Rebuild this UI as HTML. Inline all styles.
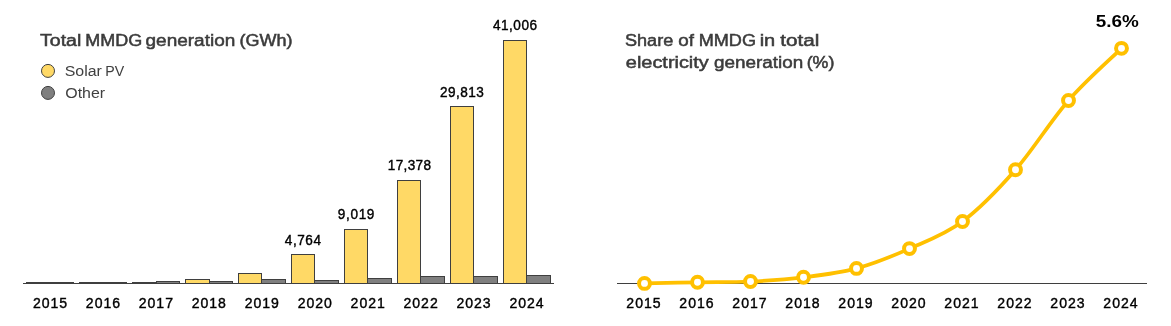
<!DOCTYPE html>
<html><head><meta charset="utf-8"><style>
html,body{margin:0;padding:0;background:#fff;width:1171px;height:326px;overflow:hidden}
svg{display:block;will-change:transform}
text{font-family:"Liberation Sans",sans-serif}

.title{font-size:16px;fill:#3b3b3b;stroke:#3b3b3b;stroke-width:0.5px}
.leg{font-size:15.5px;fill:#404040}
.yr{font-size:14.5px;fill:#000;stroke:#000;stroke-width:0.4px;text-anchor:middle}
.dl{font-size:14px;fill:#000;stroke:#000;stroke-width:0.4px;text-anchor:middle}
.pct{font-size:16px;font-weight:bold;fill:#000}

</style></head><body>
<svg width="1171" height="326" viewBox="0 0 1171 326">
<rect width="1171" height="326" fill="#fff"/>
<text x="40.07" y="46.00" class="title" textLength="41.25" lengthAdjust="spacingAndGlyphs">Total</text>
<text x="85.20" y="46.00" class="title" textLength="56.93" lengthAdjust="spacingAndGlyphs">MMDG</text>
<text x="145.56" y="46.00" class="title" textLength="89.73" lengthAdjust="spacingAndGlyphs">generation</text>
<text x="239.62" y="46.00" class="title" textLength="52.94" lengthAdjust="spacingAndGlyphs">(GWh)</text>
<circle cx="48" cy="70.9" r="6.5" fill="#FFD966" stroke="#404040" stroke-width="1"/>
<circle cx="48" cy="92.9" r="6.5" fill="#7F7F7F" stroke="#404040" stroke-width="1"/>
<text x="64.76" y="76.00" class="leg" textLength="37.18" lengthAdjust="spacingAndGlyphs">Solar</text>
<text x="105.33" y="76.00" class="leg" textLength="18.96" lengthAdjust="spacingAndGlyphs">PV</text>
<text x="65.29" y="98.00" class="leg" textLength="39.81" lengthAdjust="spacingAndGlyphs">Other</text>
<rect x="26.5" y="282.5" width="24" height="1" fill="#FFD966" stroke="#3F3F3F" stroke-width="1"/>
<rect x="50.5" y="282.5" width="23" height="1" fill="#7F7F7F" stroke="#3F3F3F" stroke-width="1"/>
<rect x="79.5" y="282.5" width="24" height="1" fill="#FFD966" stroke="#3F3F3F" stroke-width="1"/>
<rect x="103.5" y="282.5" width="23" height="1" fill="#7F7F7F" stroke="#3F3F3F" stroke-width="1"/>
<rect x="132.5" y="282.5" width="24" height="1" fill="#FFD966" stroke="#3F3F3F" stroke-width="1"/>
<rect x="156.5" y="281.5" width="23" height="2" fill="#7F7F7F" stroke="#3F3F3F" stroke-width="1"/>
<rect x="185.5" y="279.5" width="24" height="4" fill="#FFD966" stroke="#3F3F3F" stroke-width="1"/>
<rect x="209.5" y="281.5" width="23" height="2" fill="#7F7F7F" stroke="#3F3F3F" stroke-width="1"/>
<rect x="238.5" y="273.5" width="23" height="10" fill="#FFD966" stroke="#3F3F3F" stroke-width="1"/>
<rect x="261.5" y="279.5" width="24" height="4" fill="#7F7F7F" stroke="#3F3F3F" stroke-width="1"/>
<rect x="291.5" y="254.5" width="23" height="29" fill="#FFD966" stroke="#3F3F3F" stroke-width="1"/>
<rect x="314.5" y="280.5" width="24" height="3" fill="#7F7F7F" stroke="#3F3F3F" stroke-width="1"/>
<rect x="344.5" y="229.5" width="23" height="54" fill="#FFD966" stroke="#3F3F3F" stroke-width="1"/>
<rect x="367.5" y="278.5" width="24" height="5" fill="#7F7F7F" stroke="#3F3F3F" stroke-width="1"/>
<rect x="397.5" y="180.5" width="23" height="103" fill="#FFD966" stroke="#3F3F3F" stroke-width="1"/>
<rect x="420.5" y="276.5" width="24" height="7" fill="#7F7F7F" stroke="#3F3F3F" stroke-width="1"/>
<rect x="450.5" y="106.5" width="23" height="177" fill="#FFD966" stroke="#3F3F3F" stroke-width="1"/>
<rect x="473.5" y="276.5" width="24" height="7" fill="#7F7F7F" stroke="#3F3F3F" stroke-width="1"/>
<rect x="503.5" y="40.5" width="23" height="243" fill="#FFD966" stroke="#3F3F3F" stroke-width="1"/>
<rect x="526.5" y="275.5" width="24" height="8" fill="#7F7F7F" stroke="#3F3F3F" stroke-width="1"/>
<text transform="translate(49.99,0) scale(0.97,1)" x="0" y="308.00" class="yr" textLength="35.27" lengthAdjust="spacing">2015</text>
<text transform="translate(102.94,0) scale(0.97,1)" x="0" y="308.00" class="yr" textLength="35.27" lengthAdjust="spacing">2016</text>
<text transform="translate(155.89,0) scale(0.97,1)" x="0" y="308.00" class="yr" textLength="35.27" lengthAdjust="spacing">2017</text>
<text transform="translate(208.83,0) scale(0.97,1)" x="0" y="308.00" class="yr" textLength="35.27" lengthAdjust="spacing">2018</text>
<text transform="translate(261.78,0) scale(0.97,1)" x="0" y="308.00" class="yr" textLength="35.27" lengthAdjust="spacing">2019</text>
<text transform="translate(314.73,0) scale(0.97,1)" x="0" y="308.00" class="yr" textLength="35.27" lengthAdjust="spacing">2020</text>
<text transform="translate(302.90,0) scale(0.97,1)" x="0" y="245.00" class="dl" textLength="37.32" lengthAdjust="spacing" text-anchor="middle">4,764</text>
<text transform="translate(367.67,0) scale(0.97,1)" x="0" y="308.00" class="yr" textLength="35.27" lengthAdjust="spacing">2021</text>
<text transform="translate(356.10,0) scale(0.97,1)" x="0" y="219.00" class="dl" textLength="37.73" lengthAdjust="spacing" text-anchor="middle">9,019</text>
<text transform="translate(420.62,0) scale(0.97,1)" x="0" y="308.00" class="yr" textLength="35.27" lengthAdjust="spacing">2022</text>
<text transform="translate(409.40,0) scale(0.97,1)" x="0" y="170.20" class="dl" textLength="44.74" lengthAdjust="spacing" text-anchor="middle">17,378</text>
<text transform="translate(473.57,0) scale(0.97,1)" x="0" y="308.00" class="yr" textLength="35.27" lengthAdjust="spacing">2023</text>
<text transform="translate(461.90,0) scale(0.97,1)" x="0" y="97.10" class="dl" textLength="45.15" lengthAdjust="spacing" text-anchor="middle">29,813</text>
<text transform="translate(526.51,0) scale(0.97,1)" x="0" y="308.00" class="yr" textLength="35.27" lengthAdjust="spacing">2024</text>
<text transform="translate(515.00,0) scale(0.97,1)" x="0" y="29.70" class="dl" textLength="45.36" lengthAdjust="spacing" text-anchor="middle">41,006</text>
<line x1="23" y1="283.5" x2="554" y2="283.5" stroke="#3F3F3F" stroke-width="1"/>
<text x="625.01" y="46.00" class="title" textLength="48.23" lengthAdjust="spacingAndGlyphs">Share</text>
<text x="678.24" y="46.00" class="title" textLength="15.66" lengthAdjust="spacingAndGlyphs">of</text>
<text x="698.73" y="46.00" class="title" textLength="57.24" lengthAdjust="spacingAndGlyphs">MMDG</text>
<text x="759.68" y="46.00" class="title" textLength="15.57" lengthAdjust="spacingAndGlyphs">in</text>
<text x="780.15" y="46.00" class="title" textLength="39.10" lengthAdjust="spacingAndGlyphs">total</text>
<text x="625.88" y="68.00" class="title" textLength="82.90" lengthAdjust="spacingAndGlyphs">electricity</text>
<text x="714.04" y="68.00" class="title" textLength="89.09" lengthAdjust="spacingAndGlyphs">generation</text>
<text x="806.69" y="68.00" class="title" textLength="27.71" lengthAdjust="spacingAndGlyphs">(%)</text>
<line x1="617" y1="283.5" x2="1147" y2="283.5" stroke="#3F3F3F" stroke-width="1"/>
<path d="M644.5,283.4 C653.33,283.22 679.83,282.62 697.5,282.3 C715.17,281.98 732.83,282.33 750.5,281.5 C768.17,280.67 785.83,279.48 803.5,277.3 C821.17,275.12 838.83,273.18 856.5,268.4 C874.17,263.62 891.83,256.42 909.5,248.6 C927.17,240.78 944.83,234.63 962.5,221.5 C980.17,208.37 997.83,189.98 1015.5,169.8 C1033.17,149.62 1050.83,120.69 1068.5,100.45 C1086.17,80.21 1112.67,57.03 1121.5,48.35" fill="none" stroke="#FFC000" stroke-width="3.7" stroke-linecap="round" stroke-linejoin="round"/>
<circle cx="644.5" cy="283.4" r="5.45" fill="#FFFFFF" stroke="#FFC000" stroke-width="4.0"/>
<circle cx="697.5" cy="282.3" r="5.45" fill="#FFFFFF" stroke="#FFC000" stroke-width="4.0"/>
<circle cx="750.5" cy="281.5" r="5.45" fill="#FFFFFF" stroke="#FFC000" stroke-width="4.0"/>
<circle cx="803.5" cy="277.3" r="5.45" fill="#FFFFFF" stroke="#FFC000" stroke-width="4.0"/>
<circle cx="856.5" cy="268.4" r="5.45" fill="#FFFFFF" stroke="#FFC000" stroke-width="4.0"/>
<circle cx="909.5" cy="248.6" r="5.45" fill="#FFFFFF" stroke="#FFC000" stroke-width="4.0"/>
<circle cx="962.5" cy="221.5" r="5.45" fill="#FFFFFF" stroke="#FFC000" stroke-width="4.0"/>
<circle cx="1015.5" cy="169.8" r="5.45" fill="#FFFFFF" stroke="#FFC000" stroke-width="4.0"/>
<circle cx="1068.5" cy="100.45" r="5.45" fill="#FFFFFF" stroke="#FFC000" stroke-width="4.0"/>
<circle cx="1121.5" cy="48.35" r="5.45" fill="#FFFFFF" stroke="#FFC000" stroke-width="4.0"/>
<text transform="translate(643.43,0) scale(0.97,1)" x="0" y="308.00" class="yr" textLength="35.27" lengthAdjust="spacing">2015</text>
<text transform="translate(696.43,0) scale(0.97,1)" x="0" y="308.00" class="yr" textLength="35.27" lengthAdjust="spacing">2016</text>
<text transform="translate(749.43,0) scale(0.97,1)" x="0" y="308.00" class="yr" textLength="35.27" lengthAdjust="spacing">2017</text>
<text transform="translate(802.43,0) scale(0.97,1)" x="0" y="308.00" class="yr" textLength="35.27" lengthAdjust="spacing">2018</text>
<text transform="translate(855.43,0) scale(0.97,1)" x="0" y="308.00" class="yr" textLength="35.27" lengthAdjust="spacing">2019</text>
<text transform="translate(908.43,0) scale(0.97,1)" x="0" y="308.00" class="yr" textLength="35.27" lengthAdjust="spacing">2020</text>
<text transform="translate(961.43,0) scale(0.97,1)" x="0" y="308.00" class="yr" textLength="35.27" lengthAdjust="spacing">2021</text>
<text transform="translate(1014.44,0) scale(0.97,1)" x="0" y="308.00" class="yr" textLength="35.27" lengthAdjust="spacing">2022</text>
<text transform="translate(1067.44,0) scale(0.97,1)" x="0" y="308.00" class="yr" textLength="35.27" lengthAdjust="spacing">2023</text>
<text transform="translate(1120.44,0) scale(0.97,1)" x="0" y="308.00" class="yr" textLength="35.27" lengthAdjust="spacing">2024</text>
<text x="1117.30" y="26.70" class="pct" textLength="43.00" lengthAdjust="spacingAndGlyphs" text-anchor="middle">5.6%</text>
</svg>
</body></html>
